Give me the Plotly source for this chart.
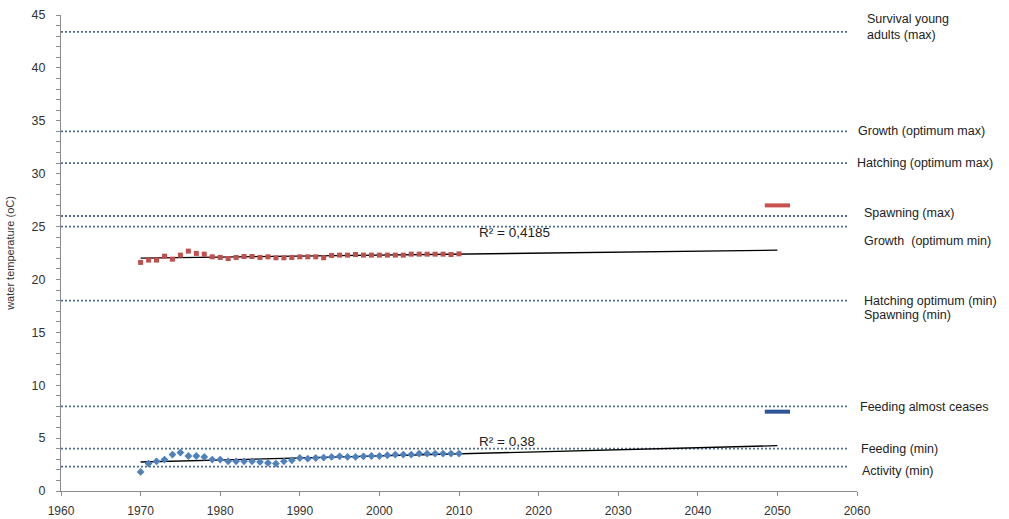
import numpy as np
import plotly.graph_objects as go

# Observed annual water temperature, 1970-2010
years = list(range(1970, 2011))
summer_temp = [21.61, 21.83, 21.83, 22.20, 21.92, 22.30, 22.68, 22.46, 22.39, 22.14,
               22.08, 21.98, 22.08, 22.17, 22.17, 22.08, 22.14, 22.05, 22.05, 22.08,
               22.14, 22.14, 22.14, 22.05, 22.27, 22.30, 22.30, 22.36, 22.30, 22.30,
               22.30, 22.30, 22.30, 22.30, 22.39, 22.39, 22.39, 22.39, 22.39, 22.36,
               22.42]
winter_temp = [1.80, 2.59, 2.81, 2.97, 3.44, 3.63, 3.31, 3.31, 3.22, 2.97,
               2.97, 2.81, 2.81, 2.81, 2.81, 2.75, 2.65, 2.59, 2.81, 2.90,
               3.12, 3.06, 3.12, 3.16, 3.22, 3.28, 3.22, 3.22, 3.28, 3.31,
               3.31, 3.38, 3.44, 3.44, 3.44, 3.54, 3.54, 3.54, 3.54, 3.54,
               3.54]

# Projected temperatures for 2050
proj_year = [2050]
proj_summer = [27.0]
proj_winter = [7.5]

# Linear trend extent
trend_years = [1970, 2050]
r2_labels = ["R² = 0,4185", "R² = 0,38"]

# Biological temperature thresholds
thresholds = [43.4, 34.0, 31.0, 26.0, 25.0, 18.0, 8.0, 4.0, 2.3]
threshold_labels = [
    ("Survival young<br>adults (max)", 43.9, 865),
    ("Growth (optimum max)", 34.0, 856),
    ("Hatching (optimum max)", 31.0, 855),
    ("Spawning (max)", 26.3, 862),
    ("Growth  (optimum min)", 23.6, 862),
    ("Hatching optimum (min)", 18.0, 862),
    ("Spawning (min)", 16.6, 862),
    ("Feeding almost ceases", 7.95, 858),
    ("Feeding (min)", 3.95, 859),
    ("Activity (min)", 1.9, 860),
]

FONT = "Liberation Sans, Arial, sans-serif"
RED = "#c0504d"
BLUE = "#4f81bd"
DOT = "#4f6e96"

W, H = 1009, 519
ML, MR, MT, MB = 61, 152, 15, 28

fig = go.Figure()

for yv in thresholds:
    fig.add_shape(type="line", xref="x", yref="y", x0=1960, x1=2059, y0=yv, y1=yv,
                  line=dict(color=DOT, width=1.8, dash="2px,2px"), layer="below")

def trend(x, y):
    slope, icpt = np.polyfit(np.array(x, float), np.array(y, float), 1)
    return [slope * t + icpt for t in trend_years]

fig.add_trace(go.Scatter(x=trend_years, y=trend(years, summer_temp), mode="lines",
                         line=dict(color="black", width=1.3), hoverinfo="skip"))
fig.add_trace(go.Scatter(x=trend_years, y=trend(years, winter_temp), mode="lines",
                         line=dict(color="black", width=1.3), hoverinfo="skip"))

fig.add_trace(go.Scatter(x=years, y=summer_temp, mode="markers",
                         marker=dict(symbol="square", size=5, color=RED)))
fig.add_trace(go.Scatter(x=years, y=winter_temp, mode="markers",
                         marker=dict(symbol="diamond", size=6, color=BLUE)))

fig.add_trace(go.Scatter(x=proj_year, y=proj_summer, mode="markers",
                         marker=dict(symbol="line-ew", size=18,
                                     line=dict(color="#c9504f", width=4))))
fig.add_trace(go.Scatter(x=proj_year, y=proj_winter, mode="markers",
                         marker=dict(symbol="line-ew", size=18,
                                     line=dict(color="#2f5597", width=4))))

fig.add_annotation(x=2012.3, y=24.4, xref="x", yref="y", text=r2_labels[0],
                   showarrow=False, xanchor="left", yanchor="middle",
                   font=dict(family=FONT, size=13.5, color="#222"))
fig.add_annotation(x=2012.3, y=4.7, xref="x", yref="y", text=r2_labels[1],
                   showarrow=False, xanchor="left", yanchor="middle",
                   font=dict(family=FONT, size=13.5, color="#222"))

pw = W - ML - MR
for text, yv, px in threshold_labels:
    fig.add_annotation(x=(px - ML) / pw, y=yv, xref="paper", yref="y", text=text,
                       showarrow=False, xanchor="left", yanchor="middle", align="left",
                       font=dict(family=FONT, size=12.5, color="#222"))

fig.update_layout(
    width=W, height=H,
    margin=dict(l=ML, r=MR, t=MT, b=MB),
    paper_bgcolor="white", plot_bgcolor="white",
    showlegend=False,
    font=dict(family=FONT, color="#333"),
    xaxis=dict(range=[1960, 2060], dtick=10, tick0=1960, showgrid=False, zeroline=False,
               showline=True, linecolor="#8c8c8c", linewidth=1, automargin=False,
               ticks="outside", ticklen=4, tickcolor="#8c8c8c", ticklabelstandoff=5,
               tickfont=dict(family=FONT, size=12, color="#333")),
    yaxis=dict(range=[0, 45], dtick=5, tick0=0, showgrid=False, zeroline=False,
               showline=True, linecolor="#8c8c8c", linewidth=1, automargin=False,
               ticks="outside", ticklen=4, tickcolor="#8c8c8c", ticklabelstandoff=8,
               minor=dict(dtick=1, ticks="outside", ticklen=4, tickcolor="#8c8c8c"),
               tickfont=dict(family=FONT, size=12.5, color="#333"),
               title=dict(text="water temperature (oC)", standoff=14,
                          font=dict(family=FONT, size=11, color="#333"))),
)

fig.write_html("out.html")
